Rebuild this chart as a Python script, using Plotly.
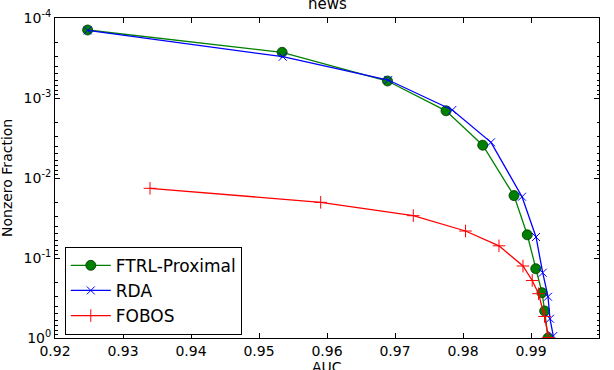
import plotly.graph_objects as go

# Data (y is Nonzero Fraction on a reversed log axis)
ftrl_auc = [0.9248, 0.9534, 0.9689, 0.9775, 0.9829, 0.9875, 0.98945, 0.9907, 0.99162, 0.99201, 0.9925]
ftrl_log = [-3.85, -3.571, -3.2125, -2.84, -2.41, -1.78, -1.29, -0.866, -0.566, -0.3375, 0.0]

rda_auc = [0.92481, 0.95349, 0.96901, 0.97843, 0.98412, 0.98868, 0.99074, 0.99172, 0.99250, 0.99279, 0.99328]
rda_log = [-3.846, -3.516, -3.225, -2.85, -2.446, -1.766, -1.2625, -0.816, -0.516, -0.241, -0.025]

fobos_auc = [0.93397, 0.95907, 0.97269, 0.98037, 0.98529, 0.98882, 0.99018, 0.99111, 0.99199, 0.99257]
fobos_log = [-1.871, -1.696, -1.529, -1.3375, -1.1525, -0.9, -0.719, -0.554, -0.269, -0.006]

x_ticks = [0.92, 0.93, 0.94, 0.95, 0.96, 0.97, 0.98, 0.99, 1.00]
x_ticktext = ["0.92", "0.93", "0.94", "0.95", "0.96", "0.97", "0.98", "0.99", "1.00"]
y_ticks = [1e-4, 1e-3, 1e-2, 1e-1, 1.0]
y_ticktext = ["10<sup>-4</sup>", "10<sup>-3</sup>", "10<sup>-2</sup>", "10<sup>-1</sup>", "10<sup>0</sup>"]
y_minor = [k * 10.0 ** e for e in (-4, -3, -2, -1) for k in range(2, 10)]

def tov(logs):
    return [10.0 ** v for v in logs]

FONT = "DejaVu Sans"

fig = go.Figure()
fig.add_trace(go.Scatter(
    x=ftrl_auc, y=tov(ftrl_log), name="FTRL-Proximal", mode="lines+markers",
    line=dict(color="#008000", width=1.3),
    marker=dict(symbol="circle", size=10, color="#008000", line=dict(color="#003300", width=0.8)),
))
fig.add_trace(go.Scatter(
    x=rda_auc, y=tov(rda_log), name="RDA", mode="lines+markers",
    line=dict(color="#0000ff", width=1.3),
    marker=dict(symbol="x-thin", size=8, color="#0000ff", line=dict(color="#0000ff", width=1)),
))
fig.add_trace(go.Scatter(
    x=fobos_auc, y=tov(fobos_log), name="FOBOS", mode="lines+markers",
    line=dict(color="#ff0000", width=1.3),
    marker=dict(symbol="cross-thin", size=9, color="#ff0000", line=dict(color="#ff0000", width=1)),
))
# invisible trace on a right-side mirror axis so the minor ticks appear inside on the right too
fig.add_trace(go.Scatter(x=[], y=[], yaxis="y2", showlegend=False, hoverinfo="skip"))

common_y = dict(
    type="log", range=[0, -4], tickmode="array", tickvals=y_ticks,
    ticks="inside", ticklen=5, tickcolor="black", showgrid=False, zeroline=False,
    automargin=False,
    minor=dict(tickmode="array", tickvals=y_minor, ticks="inside", ticklen=2.5,
               tickcolor="black", showgrid=False),
)

fig.update_layout(
    width=614, height=370,
    margin=dict(l=55, r=15, t=18, b=32, autoexpand=False),
    paper_bgcolor="white", plot_bgcolor="white",
    font=dict(family=FONT, size=14, color="black"),
    showlegend=True,
    legend=dict(
        x=0.018, y=0.285, xanchor="left", yanchor="top",
        bordercolor="black", borderwidth=1, bgcolor="white",
        font=dict(family=FONT, size=17, color="black"),
        tracegroupgap=0, itemwidth=40,
    ),
    xaxis=dict(
        range=[0.92, 1.00], tickmode="array", tickvals=x_ticks, ticktext=x_ticktext,
        ticks="inside", ticklen=5, tickcolor="black", showline=True, linecolor="black",
        linewidth=1, mirror="ticks", showgrid=False, zeroline=False, automargin=False,
        tickfont=dict(family=FONT, size=14),
    ),
    yaxis=dict(
        **common_y, ticktext=y_ticktext, showline=True, linecolor="black", linewidth=1,
        mirror=True, tickfont=dict(family=FONT, size=14),
    ),
    yaxis2=dict(
        **common_y, overlaying="y", side="right", showticklabels=False, showline=False,
    ),
    annotations=[
        dict(text="news", xref="paper", yref="paper", x=0.5, y=1, yanchor="bottom",
             yshift=3, showarrow=False, font=dict(family=FONT, size=15)),
        dict(text="AUC", xref="paper", yref="paper", x=0.5, y=0, yanchor="top",
             yshift=-19, showarrow=False, font=dict(family=FONT, size=14)),
        dict(text="Nonzero Fraction", xref="paper", yref="paper", x=0, y=0.5,
             xanchor="right", xshift=-38, textangle=-90, showarrow=False,
             font=dict(family=FONT, size=14)),
    ],
)

fig.write_html("out.html", config={"displayModeBar": False},
               post_script="document.body.style.margin='0';")
